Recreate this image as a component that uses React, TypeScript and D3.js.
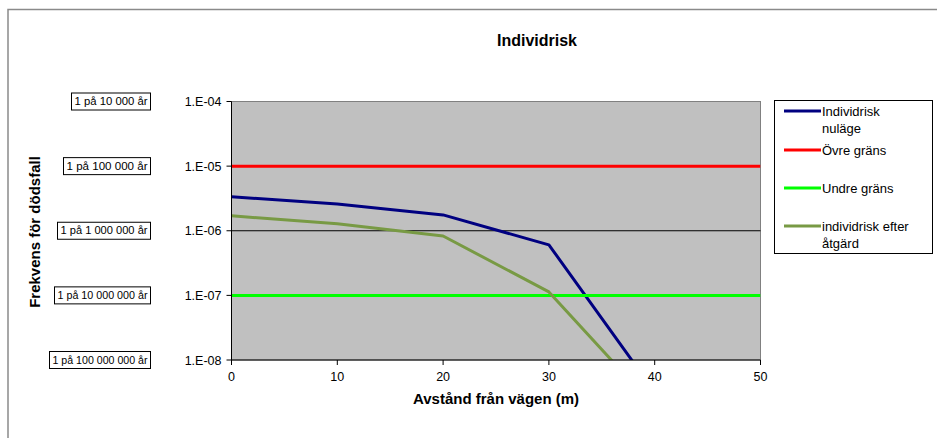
import * as d3 from "d3";

// avstånd (m)
const distances = [0, 10, 20, 30, 40];
// frekvens för dödsfall
const nulage = [3.35e-6, 2.6e-6, 1.76e-6, 6.05e-7, 3.2e-9];
const efterAtgard = [1.7e-6, 1.28e-6, 8.3e-7, 1.13e-7, 1.86e-9];
const ovreGrans = [1e-5, 1e-5, 1e-5, 1e-5, 1e-5, 1e-5];
const undreGrans = [1e-7, 1e-7, 1e-7, 1e-7, 1e-7, 1e-7];
const limitX = [0, 10, 20, 30, 40, 50];

const yTicks = [1e-4, 1e-5, 1e-6, 1e-7, 1e-8];
const yTickLabels = ["1.E-04", "1.E-05", "1.E-06", "1.E-07", "1.E-08"];
const xTicks = [0, 10, 20, 30, 40, 50];
const sideLabels = [
  "1 på 10 000 år",
  "1 på 100 000 år",
  "1 på 1 000 000 år",
  "1 på 10 000 000 år",
  "1 på 100 000 000 år",
];
const sideBoxWidths = [79, 87, 93, 96, 101];

const W = 937;
const H = 438;
const PL = 231.5;
const PR = 760.5;
const PT = 101.5;
const PB = 360;
const FONT = "Arial, 'Liberation Sans', sans-serif";

type Series = { name: string[]; xs: number[]; ys: number[]; color: string; width: number };

const series: Series[] = [
  { name: ["Individrisk", "nuläge"], xs: distances, ys: nulage, color: "#000080", width: 3 },
  { name: ["Övre gräns"], xs: limitX, ys: ovreGrans, color: "#FF0000", width: 3 },
  { name: ["Undre gräns"], xs: limitX, ys: undreGrans, color: "#00FF00", width: 3 },
  { name: ["individrisk efter", "åtgärd"], xs: distances, ys: efterAtgard, color: "#789A44", width: 3 },
];

export default function App() {
  const x = d3.scaleLinear().domain([0, 50]).range([PL, PR]);
  const y = d3.scaleLog().domain([1e-8, 1e-4]).range([PB, PT]);

  const line = (xs: number[], ys: number[]) =>
    d3
      .line<number>()
      .x((_d, i) => x(xs[i]))
      .y((d) => y(d))(ys) || "";

  const legendRowsY = [111, 150, 188, 226];

  return (
    <svg
      width={W}
      height={H}
      style={{ position: "absolute", left: 0, top: 0, background: "#fff" }}
      fontFamily={FONT}
    >
      <defs>
        <clipPath id="plot-clip">
          <rect x={PL} y={PT} width={PR - PL} height={PB - PT} />
        </clipPath>
      </defs>

      {/* yttre ram */}
      <rect x={8} y={9.5} width={W + 10} height={H + 10} fill="none" stroke="#8a8a8a" strokeWidth={1.5} />

      {/* titel */}
      <text x={537} y={46} textAnchor="middle" fontSize={16} fontWeight="bold">
        Individrisk
      </text>

      {/* plotyta */}
      <rect x={PL} y={PT} width={PR - PL} height={PB - PT} fill="#C0C0C0" stroke="#808080" strokeWidth={1} />

      {/* linje vid 1E-06 */}
      <line x1={PL} x2={PR} y1={y(1e-6)} y2={y(1e-6)} stroke="#000" strokeWidth={1.2} />

      <g clipPath="url(#plot-clip)">
        {series.map((s) => (
          <path
            key={s.name.join(" ")}
            d={line(s.xs, s.ys)}
            fill="none"
            stroke={s.color}
            strokeWidth={s.width}
            strokeLinejoin="round"
          />
        ))}
      </g>

      {/* y-axel */}
      <line x1={PL} x2={PL} y1={PT} y2={PB} stroke="#000" strokeWidth={1} />
      {yTicks.map((t, i) => (
        <g key={t}>
          <line x1={PL - 5} x2={PL} y1={y(t)} y2={y(t)} stroke="#000" />
          <text x={PL - 10} y={y(t) + 4.5} textAnchor="end" fontSize={12.5}>
            {yTickLabels[i]}
          </text>
          <rect
            x={150.5 - sideBoxWidths[i]}
            y={y(t) - 8.5}
            width={sideBoxWidths[i]}
            height={17}
            fill="#fff"
            stroke="#000"
            strokeWidth={1}
          />
          <text x={150.5 - sideBoxWidths[i] / 2} y={y(t) + 3.5} textAnchor="middle" fontSize={10} textLength={sideBoxWidths[i] - 6} lengthAdjust="spacingAndGlyphs">
            {sideLabels[i]}
          </text>
        </g>
      ))}

      {/* x-axel */}
      <line x1={PL} x2={PR} y1={PB} y2={PB} stroke="#000" strokeWidth={1} />
      {xTicks.map((t) => (
        <g key={t}>
          <line x1={x(t)} x2={x(t)} y1={PB} y2={PB + 5} stroke="#000" />
          <text x={x(t)} y={PB + 21} textAnchor="middle" fontSize={12.5}>
            {t}
          </text>
        </g>
      ))}

      {/* axeltitlar */}
      <text x={496} y={404} textAnchor="middle" fontSize={15} fontWeight="bold">
        Avstånd från vägen (m)
      </text>
      <text
        transform={`translate(40,232) rotate(-90)`}
        textAnchor="middle"
        fontSize={15}
        fontWeight="bold"
      >
        Frekvens för dödsfall
      </text>

      {/* legend */}
      <rect x={774.5} y={100.5} width={158} height={153} fill="#fff" stroke="#000" strokeWidth={1} />
      {series.map((s, i) => (
        <g key={"lg" + i}>
          <line x1={784} x2={821} y1={legendRowsY[i]} y2={legendRowsY[i]} stroke={s.color} strokeWidth={3} />
          {s.name.map((n, j) => (
            <text key={n} x={822} y={legendRowsY[i] + 4.5 + j * 17} fontSize={13}>
              {n}
            </text>
          ))}
        </g>
      ))}
    </svg>
  );
}
